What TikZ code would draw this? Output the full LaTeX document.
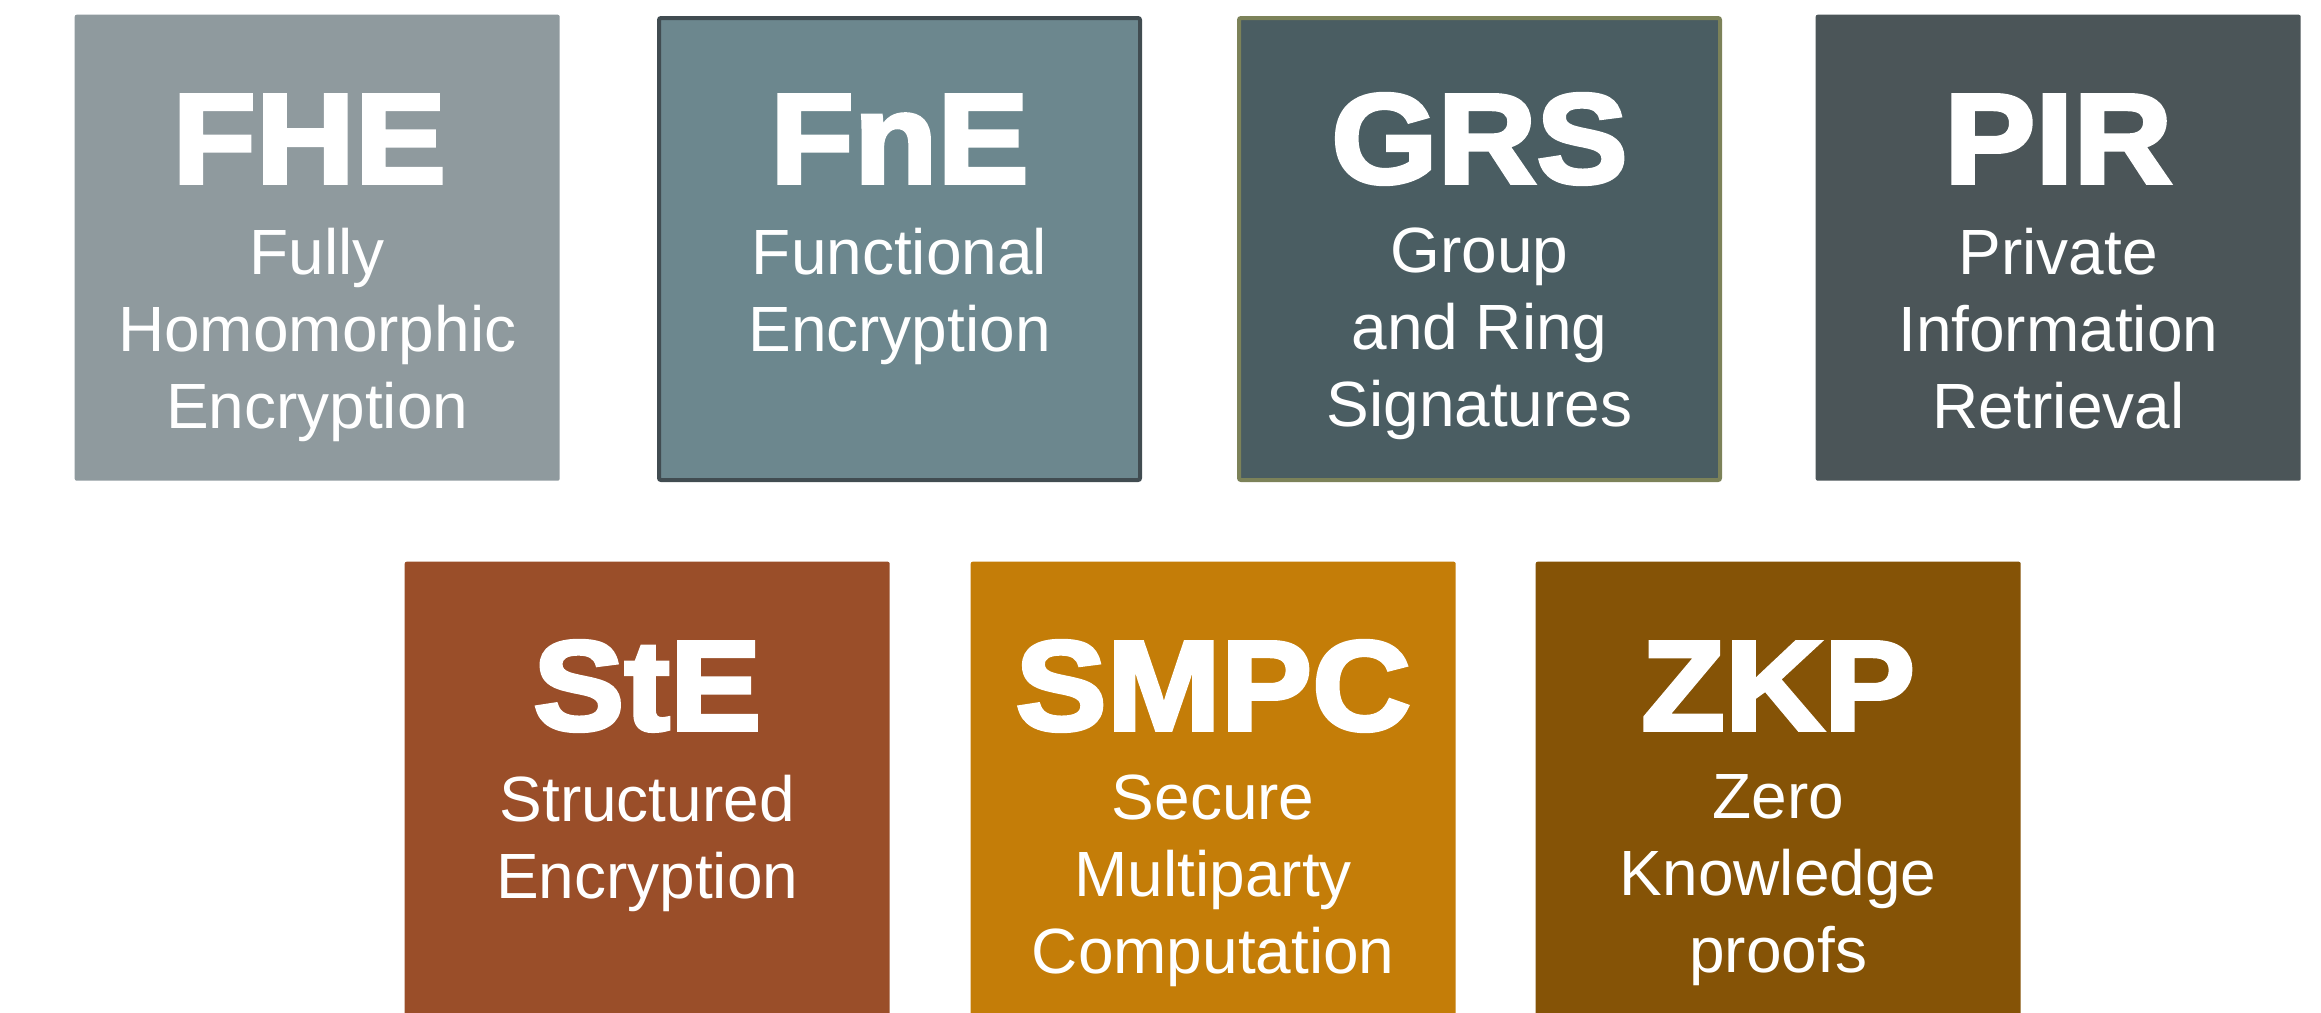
\documentclass[tikz,border=0pt]{standalone}
\usepackage{fontspec}
\setmainfont{Liberation Sans}
\newfontfamily\headfont[FakeBold=3,FakeStretch=1.07]{Liberation Sans Bold}

\definecolor{fhecol}{HTML}{8F9A9E}
\definecolor{fnecol}{HTML}{6C878E}
\definecolor{fneline}{HTML}{414C51}
\definecolor{grscol}{HTML}{4A5D62}
\definecolor{grsline}{HTML}{7C8259}
\definecolor{pircol}{HTML}{4B5558}
\definecolor{stecol}{HTML}{9A4E29}
\definecolor{smpccol}{HTML}{C47D08}
\definecolor{zkpcol}{HTML}{855306}

\begin{document}
\begin{tikzpicture}[
        box/.style={rectangle,rounded corners=0.02cm,minimum width=4.85cm,minimum height=4.66cm,inner sep=0pt,anchor=north west},
        framed/.style={box,minimum width=4.81cm,minimum height=4.62cm,line width=0.04cm},
        title/.style={anchor=base,text=white,inner sep=0pt,font=\headfont\fontsize{36.4}{40}\selectfont},
        subtitle/.style={anchor=north,text=white,inner sep=0pt,align=center,font=\fontsize{18.2}{21.9}\selectfont}
    ]
        \useasboundingbox (0,0) rectangle (23.21,-10.12);

        % Define the boxes
        \node[box,fill=fhecol] (FHE) at (0.74,-0.14) {};
        \node[framed,fill=fnecol,draw=fneline] (FnE) at (6.57,-0.16) {};
        \node[framed,fill=grscol,draw=grsline] (GRS) at (12.37,-0.16) {};
        \node[box,fill=pircol] (PIR) at (18.15,-0.14) {};
        \node[box,fill=stecol] (StE) at (4.04,-5.61) {};
        \node[box,fill=smpccol] (SMPC) at (9.70,-5.61) {};
        \node[box,fill=zkpcol] (ZKP) at (15.35,-5.61) {};

        % Abbreviations
        \node[title] (FHE-t) at ([xshift=-0.08cm,yshift=-1.69cm]FHE.north) {FHE};
        \node[title] (FnE-t) at ([yshift=-1.67cm]FnE.north) {FnE};
        \node[title] (GRS-t) at ([yshift=-1.67cm]GRS.north) {GRS};
        \node[title] (PIR-t) at ([yshift=-1.69cm]PIR.north) {PIR};
        \node[title] (StE-t) at ([yshift=-1.69cm]StE.north) {StE};
        \node[title] (SMPC-t) at ([yshift=-1.69cm]SMPC.north) {SMPC};
        \node[title] (ZKP-t) at ([yshift=-1.69cm]ZKP.north) {ZKP};

        % Full names
        \node[subtitle] (FHE-s) at ([yshift=-2.13cm]FHE.north) {Fully\\Homomorphic\\Encryption};
        \node[subtitle] (FnE-s) at ([yshift=-2.11cm]FnE.north) {Functional\\Encryption};
        \node[subtitle] (GRS-s) at ([yshift=-2.11cm]GRS.north) {Group\\and Ring\\Signatures};
        \node[subtitle] (PIR-s) at ([yshift=-2.13cm]PIR.north) {Private\\Information\\Retrieval};
        \node[subtitle] (StE-s) at ([yshift=-2.13cm]StE.north) {Structured\\Encryption};
        \node[subtitle] (SMPC-s) at ([yshift=-2.13cm]SMPC.north) {Secure\\Multiparty\\Computation};
        \node[subtitle] (ZKP-s) at ([yshift=-2.13cm]ZKP.north) {Zero\\Knowledge\\proofs};
    \end{tikzpicture}
\end{document}
